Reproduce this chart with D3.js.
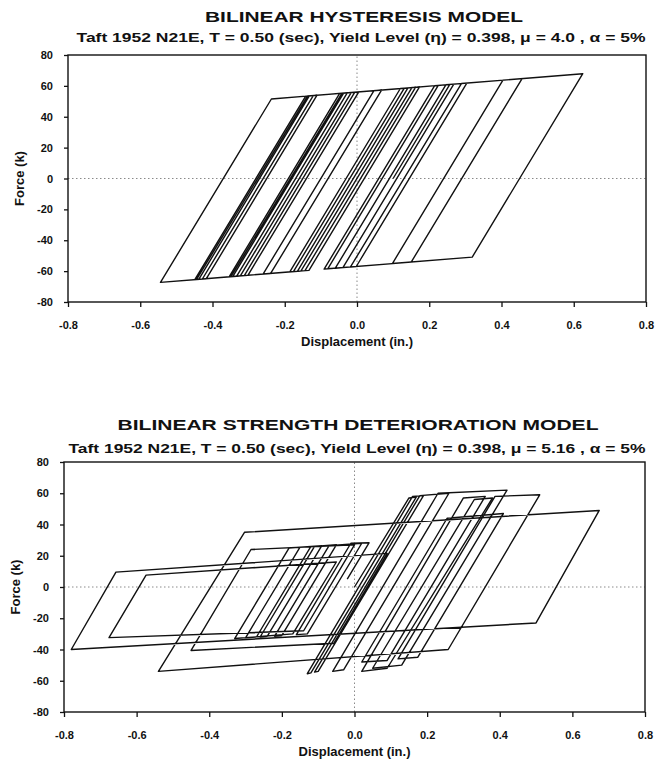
<!DOCTYPE html>
<html>
<head>
<meta charset="utf-8">
<script src="https://cdn.jsdelivr.net/npm/d3@7"></script>
<style>
  html, body { margin: 0; padding: 0; background: #fff; }
  svg { display: block; }
  text { font-family: "Liberation Sans", Arial, Helvetica, sans-serif; fill: #111; }
</style>
</head>
<body>
<svg id="chart" width="656" height="772"></svg>
<script>
// Axis ticks shared by both panels
const xTicks = [-0.8, -0.6, -0.4, -0.2, 0.0, 0.2, 0.4, 0.6, 0.8];
const yTicks = [-80, -60, -40, -20, 0, 20, 40, 60, 80];

const titles = ["BILINEAR HYSTERESIS MODEL", "BILINEAR STRENGTH DETERIORATION MODEL"];
const subtitles = [
  "Taft 1952 N21E, T = 0.50 (sec), Yield Level  (η) = 0.398, μ = 4.0 , α = 5%",
  "Taft 1952 N21E, T = 0.50 (sec), Yield Level  (η) = 0.398, μ = 5.16 , α = 5%"
];
const xLabel = "Displacement (in.)";
const yLabel = "Force (k)";

// Bilinear response: turning points of the force–displacement history
const hystDisp = [
  0, 0.152, 0.162, -0.144, -0.186, 0.120, 0.152, -0.155, -0.312, -0.006,
  0.005, -0.302, -0.428, -0.121, -0.027, -0.333, -0.449, -0.142, -0.111, -0.417,
  -0.544, -0.237, -0.132, -0.438, -0.444, -0.137, -0.037, -0.344, -0.354, -0.048,
  -0.006, -0.312, -0.333, -0.027, -0.016, -0.323, -0.349, -0.042, 0.131, -0.176,
  -0.186, 0.120, 0.141, -0.165, -0.260, 0.047, 0.068, -0.239, -0.302, 0.005,
  0.173, -0.133, -0.176, 0.131, 0.225, -0.081, -0.091, 0.215, 0.268, -0.039,
  -0.060, 0.246, 0.304, -0.002, -0.018, 0.289, 0.625, 0.319, 0.098, 0.404,
  0.457, 0.150, -0.081, 0.225, 0.257, 0.100
];
const hystForce = [
  0, 58.9, 59.1, -59.7, -60.5, 58.3, 58.9, -59.9, -62.9, 55.9,
  56.1, -62.7, -65.1, 53.7, 55.5, -63.3, -65.5, 53.3, 53.9, -64.9,
  -67.3, 51.5, 53.5, -65.3, -65.4, 53.4, 55.3, -63.5, -63.7, 55.1,
  55.9, -62.9, -63.3, 55.5, 55.7, -63.1, -63.6, 55.2, 58.5, -60.3,
  -60.5, 58.3, 58.7, -60.1, -61.9, 56.9, 57.3, -61.5, -62.7, 56.1,
  59.3, -59.5, -60.3, 58.5, 60.3, -58.5, -58.7, 60.1, 61.1, -57.7,
  -58.1, 60.7, 61.8, -57.0, -57.3, 61.5, 67.9, -50.9, -55.1, 63.7,
  64.7, -54.2, -58.5, 60.3, 60.9, 0
];

// Strength-deterioration response: turning points
const degrDisp = [
  0.00, 0.15, 0.17, -0.12, -0.13, 0.16, 0.19, -0.10, -0.11, 0.18,
  0.26, -0.03, -0.06, 0.23, 0.42, 0.13, 0.05, 0.33, 0.38, 0.09,
  0.02, 0.30, 0.36, 0.09, 0.02, 0.255, 0.41, 0.174, 0.12, 0.387,
  0.51, 0.258, -0.54, -0.303, 0.674, 0.50, -0.78, -0.657, 0.09, -0.057,
  -0.45, -0.285, 0.00, -0.14, -0.676, -0.574, -0.05, -0.17, -0.33, -0.18,
  -0.12, -0.27, -0.30, -0.15, -0.09, -0.24, -0.26, -0.11, -0.05, -0.20,
  -0.22, -0.07, 0.02, -0.13, -0.16, -0.01, 0.04, -0.02
];
const degrForce = [
  0.0, 57.0, 57.5, -55.0, -55.5, 58.0, 58.5, -54.0, -54.5, 58.5,
  60.0, -53.0, -54.0, 60.0, 62.0, -50.0, -52.0, 56.0, 57.0, -52.0,
  -54.0, 57.0, 58.0, -47.0, -48.0, 44.0, 47.0, -45.0, -46.0, 58.0,
  59.0, -40.0, -54.0, 35.0, 49.0, -23.0, -40.0, 9.5, 21.5, -36.0,
  -40.6, 24.0, 27.0, -28.0, -32.4, 7.6, 16.0, -30.0, -33.0, 25.0,
  26.0, -32.0, -32.5, 25.5, 26.5, -31.5, -32.0, 26.0, 27.0, -31.0,
  -31.5, 26.5, 28.0, -30.0, -30.5, 28.0, 28.3, 5.0
];

const panels = [
  { title: titles[0], subtitle: subtitles[0], disp: hystDisp, force: hystForce,
    left: 68, right: 646, top: 55, bottom: 302,
    titleY: 22, titleX: 364, titleLen: 318,
    subY: 42, subX: 361, subLen: 569,
    tickLabelY: 329, xLabelY: 346, yLabelX: 24 },
  { title: titles[1], subtitle: subtitles[1], disp: degrDisp, force: degrForce,
    left: 64, right: 645, top: 462, bottom: 712,
    titleY: 430, titleX: 358, titleLen: 481,
    subY: 453, subX: 357, subLen: 577,
    tickLabelY: 739, xLabelY: 756, yLabelX: 20 }
];

const svg = d3.select("#chart");

panels.forEach(p => {
  const x = d3.scaleLinear().domain([-0.8, 0.8]).range([p.left, p.right]);
  const y = d3.scaleLinear().domain([-80, 80]).range([p.bottom, p.top]);
  const g = svg.append("g");

  // Titles
  g.append("text")
    .attr("x", p.titleX).attr("y", p.titleY)
    .attr("text-anchor", "middle")
    .attr("font-size", 15).attr("font-weight", "bold")
    .attr("textLength", p.titleLen).attr("lengthAdjust", "spacingAndGlyphs")
    .text(p.title);
  g.append("text")
    .attr("x", p.subX).attr("y", p.subY)
    .attr("text-anchor", "middle")
    .attr("font-size", 12.5).attr("font-weight", "bold")
    .attr("textLength", p.subLen).attr("lengthAdjust", "spacingAndGlyphs")
    .text(p.subtitle);

  // Zero reference lines (dotted)
  g.append("line")
    .attr("x1", x(-0.8)).attr("x2", x(0.8)).attr("y1", y(0)).attr("y2", y(0))
    .attr("stroke", "#8a8a8a").attr("stroke-width", 1).attr("stroke-dasharray", "1.5,2.5");
  g.append("line")
    .attr("x1", x(0)).attr("x2", x(0)).attr("y1", y(-80)).attr("y2", y(80))
    .attr("stroke", "#8a8a8a").attr("stroke-width", 1).attr("stroke-dasharray", "1.5,2.5");

  // Response curve
  const pts = p.disp.map((d, i) => [d, p.force[i]]);
  g.append("path")
    .datum(pts)
    .attr("fill", "none")
    .attr("stroke", "#111")
    .attr("stroke-width", 1.4)
    .attr("stroke-linejoin", "round")
    .attr("d", d3.line().x(d => x(d[0])).y(d => y(d[1])));

  // Frame
  g.append("rect")
    .attr("x", x(-0.8)).attr("y", y(80))
    .attr("width", x(0.8) - x(-0.8)).attr("height", y(-80) - y(80))
    .attr("fill", "none").attr("stroke", "#111").attr("stroke-width", 1.4);

  // Axes
  const xAxis = d3.axisBottom(x).tickValues(xTicks).tickSize(5)
    .tickFormat(d => d.toFixed(1));
  const gx = g.append("g").attr("transform", `translate(0,${p.bottom})`).call(xAxis);
  gx.select(".domain").remove();
  gx.selectAll(".tick line").attr("stroke", "#111").attr("stroke-width", 1.3);
  gx.selectAll(".tick text")
    .attr("y", null).attr("dy", null)
    .attr("transform", `translate(0,${p.tickLabelY - p.bottom})`)
    .attr("font-size", 11).attr("font-weight", "bold")
    .attr("font-family", "Liberation Sans, Arial, sans-serif").attr("fill", "#111");

  const yAxis = d3.axisLeft(y).tickValues(yTicks).tickSize(4)
    .tickFormat(d => String(d));
  const gy = g.append("g").attr("transform", `translate(${p.left},0)`).call(yAxis);
  gy.select(".domain").remove();
  gy.selectAll(".tick line").attr("stroke", "#111").attr("stroke-width", 1.3);
  gy.selectAll(".tick text")
    .attr("x", -15)
    .attr("font-size", 11).attr("font-weight", "bold")
    .attr("font-family", "Liberation Sans, Arial, sans-serif").attr("fill", "#111");

  // Axis titles
  g.append("text")
    .attr("x", (p.left + p.right) / 2).attr("y", p.xLabelY)
    .attr("text-anchor", "middle")
    .attr("font-size", 13).attr("font-weight", "bold")
    .text(xLabel);
  g.append("text")
    .attr("transform", `translate(${p.yLabelX},${(p.top + p.bottom) / 2}) rotate(-90)`)
    .attr("text-anchor", "middle")
    .attr("font-size", 13).attr("font-weight", "bold")
    .text(yLabel);
});
</script>
</body>
</html>
